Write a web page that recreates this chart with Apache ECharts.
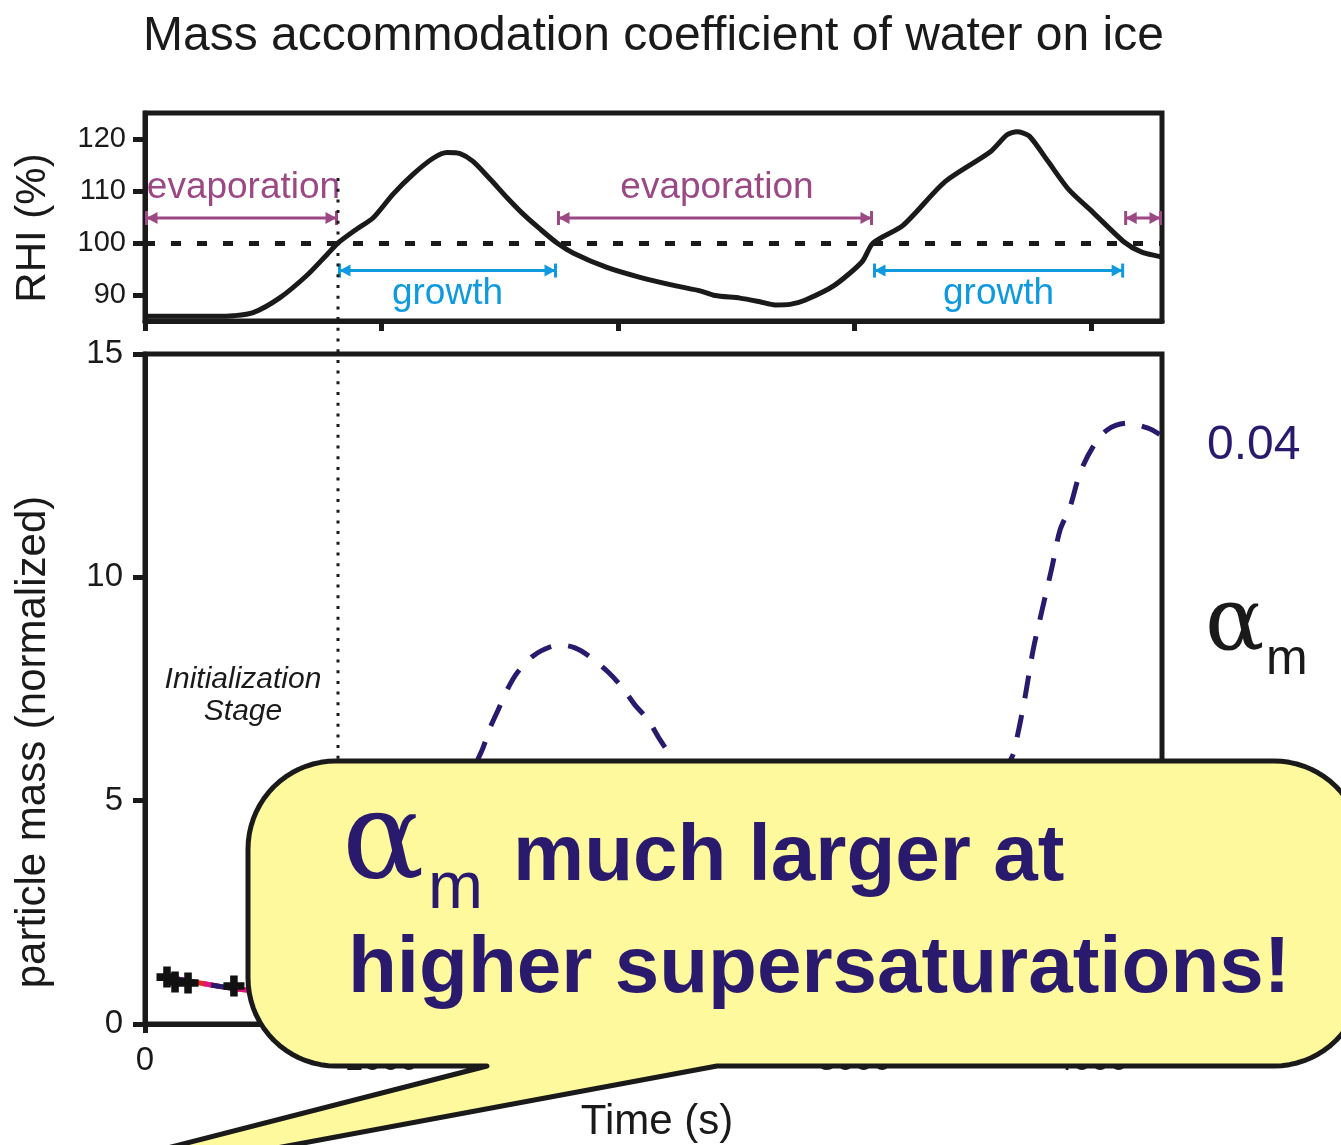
<!DOCTYPE html>
<html>
<head>
<meta charset="utf-8">
<title>Mass accommodation coefficient of water on ice</title>
<script src="https://cdn.jsdelivr.net/npm/echarts@6/dist/echarts.min.js"></script>
<style>
  html, body { margin: 0; padding: 0; background: #ffffff; }
  #chart { width: 1341px; height: 1145px; }
</style>
</head>
<body>
<div id="chart"></div>
<script>
// ---- relative humidity over ice (top panel) ----
const rhiTime = [0, 150, 300, 372, 457, 571, 685, 770, 816, 896, 964, 1049, 1133, 1218, 1277, 1332, 1387, 1459, 1531, 1598, 1670, 1742, 1810, 1953, 2093, 2250, 2347, 2410, 2516, 2600, 2664, 2727, 2790, 2913, 3032, 3078, 3205, 3383, 3573, 3645, 3687, 3738, 3818, 3907, 4008, 4140, 4212, 4300];
const rhiValue = [85.9, 85.9, 85.9, 86.0, 86.6, 89.5, 93.8, 97.8, 100.0, 102.7, 104.8, 109.4, 113.2, 116.3, 117.4, 117.2, 115.7, 112.3, 108.7, 105.6, 102.7, 100.0, 98.1, 95.3, 93.4, 91.7, 90.8, 89.9, 89.4, 88.7, 88.1, 88.2, 89.0, 91.8, 96.4, 100.0, 103.4, 111.8, 117.5, 120.8, 121.4, 120.6, 115.7, 110.2, 105.9, 100.2, 98.3, 97.3];
const saturation = 100;

// growth / evaporation phases between the saturation crossings
const phaseStart = [0, 816, 1742, 3078, 4140];
const phaseEnd = [816, 1742, 3078, 4140, 4300];
const phaseKind = [0, 1, 0, 1, 0];            // 0 = evaporation, 1 = growth
const phaseLabel = ['evaporation', 'growth', 'evaporation', 'growth', ''];
const initEnd = 816;                           // end of the initialization stage (s)

// ---- normalized particle mass (bottom panel) ----
const obsTime = [93, 127, 182, 376];
const obsMass = [1.05, 0.94, 0.92, 0.85];

const massTimeA = [114, 250, 431, 816, 1200, 1742, 2300, 3078, 3600, 4140, 4290];
const massRed = [1.03, 0.90, 0.76, 0.60, 1.10, 2.00, 1.50, 0.90, 1.60, 2.80, 2.70];
const massMagenta = [1.03, 0.90, 0.76, 0.65, 1.60, 3.40, 2.40, 1.20, 2.60, 5.00, 4.90];

const massTime004 = [114, 250, 431, 600, 816, 1000, 1200, 1425, 1459, 1493, 1535, 1573, 1641, 1712, 1763, 1818, 1882, 1958, 2017, 2072, 2127, 2178, 2228, 2400, 2700, 3078, 3400, 3666, 3691, 3721, 3755, 3793, 3835, 3869, 3911, 3953, 4008, 4068, 4152, 4241, 4290];
const mass004 = [1.03, 0.90, 0.76, 0.72, 0.70, 1.60, 3.60, 6.13, 6.63, 7.03, 7.52, 7.86, 8.24, 8.44, 8.48, 8.42, 8.22, 7.88, 7.54, 7.14, 6.81, 6.36, 5.98, 4.90, 3.20, 2.00, 3.40, 5.98, 6.51, 7.32, 8.37, 9.27, 10.23, 11.06, 11.57, 12.33, 12.92, 13.30, 13.45, 13.34, 13.20];

const timeTicks = [0, 1000, 2000, 3000, 4000];
const rhiTicks = [90, 100, 110, 120];

// ---- styles ----
const INK = '#1a1a1a';
const NAVY = '#2a1a6e';
const PURPLE = '#9b4884';
const BLUE = '#0f9ae0';
const RED = '#e12b1e';
const MAGENTA = '#e0137f';
const SANS = '"Liberation Sans", Arial, Helvetica, sans-serif';
const GREEK = '"DejaVu Serif", "Liberation Serif", serif';

const chart = echarts.init(document.getElementById('chart'), null, { renderer: 'canvas' });

const pairs = (xs, ys) => xs.map((x, i) => [x, ys[i]]);
const plain = v => String(v);

function phaseArrow(params, api) {
  const kind = api.value(2);
  const level = kind === 0 ? 104.8 : 94.7;
  const p1 = api.coord([api.value(0), level]);
  const p2 = api.coord([api.value(1), level]);
  const color = kind === 0 ? PURPLE : BLUE;
  const x1 = p1[0] + 1.5, x2 = p2[0] - 1.5, y = p1[1];
  const ah = 11, aw = 6, bh = 7;
  const children = [
    { type: 'line', shape: { x1: x1, y1: y, x2: x2, y2: y }, style: { stroke: color, lineWidth: 3 } },
    { type: 'polygon', shape: { points: [[x1, y], [x1 + ah, y - aw], [x1 + ah, y + aw]] }, style: { fill: color } },
    { type: 'polygon', shape: { points: [[x2, y], [x2 - ah, y - aw], [x2 - ah, y + aw]] }, style: { fill: color } },
    { type: 'line', shape: { x1: x1, y1: y - bh, x2: x1, y2: y + bh }, style: { stroke: color, lineWidth: 3 } },
    { type: 'line', shape: { x1: x2, y1: y - bh, x2: x2, y2: y + bh }, style: { stroke: color, lineWidth: 3 } }
  ];
  const label = phaseLabel[params.dataIndex];
  if (label) {
    children.push({
      type: 'text',
      style: {
        text: label, x: (x1 + x2) / 2 + (kind === 0 ? 2 : 0), y: kind === 0 ? y - 30 : y + 23,
        fill: color, fontSize: 37, fontFamily: SANS,
        align: 'center', verticalAlign: 'middle', textAlign: 'center', textVerticalAlign: 'middle'
      }
    });
  }
  return { type: 'group', children: children };
}

const option = {
  animation: false,
  backgroundColor: '#ffffff',
  title: {
    text: 'Mass accommodation coefficient of water on ice',
    left: 138, top: 8,
    textStyle: { fontSize: 48, fontWeight: 'normal', color: INK, fontFamily: SANS }
  },
  grid: [
    { left: 145, top: 113, width: 1017, height: 208, show: true, borderColor: INK, borderWidth: 5, backgroundColor: 'transparent', outerBoundsMode: 'none' },
    { left: 145, top: 354, width: 1017, height: 670, show: true, borderColor: INK, borderWidth: 5, backgroundColor: 'transparent', outerBoundsMode: 'none' }
  ],
  xAxis: [
    {
      gridIndex: 0, type: 'value', min: 0, max: 4300,
      axisLine: { show: true, lineStyle: { color: INK, width: 5 } },
      axisTick: { show: true, length: 10, customValues: timeTicks, lineStyle: { color: INK, width: 5 } },
      axisLabel: { show: false },
      splitLine: { show: false }
    },
    {
      gridIndex: 1, type: 'value', min: 0, max: 4300,
      axisLine: { show: true, lineStyle: { color: INK, width: 5 } },
      axisTick: { show: true, length: 9, customValues: timeTicks, lineStyle: { color: INK, width: 5 } },
      axisLabel: { show: true, customValues: timeTicks, formatter: plain, margin: 20, fontSize: 33, color: INK, fontFamily: SANS },
      splitLine: { show: false }
    }
  ],
  yAxis: [
    {
      gridIndex: 0, type: 'value', min: 85, max: 125,
      axisLine: { show: true, lineStyle: { color: INK, width: 5 } },
      axisTick: { show: true, length: 12, customValues: rhiTicks, lineStyle: { color: INK, width: 5 } },
      axisLabel: { show: true, customValues: rhiTicks, formatter: plain, margin: 19, fontSize: 29, color: INK, fontFamily: SANS },
      splitLine: { show: false }
    },
    {
      gridIndex: 1, type: 'value', min: 0, max: 15, interval: 5,
      axisLine: { show: true, lineStyle: { color: INK, width: 5 } },
      axisTick: { show: true, length: 12, lineStyle: { color: INK, width: 5 } },
      axisLabel: { show: true, formatter: plain, margin: 22, fontSize: 33, color: INK, fontFamily: SANS },
      splitLine: { show: false }
    }
  ],
  series: [
    {
      name: 'RHI', type: 'line', xAxisIndex: 0, yAxisIndex: 0,
      data: pairs(rhiTime, rhiValue), smooth: 0.25, showSymbol: false,
      lineStyle: { color: INK, width: 5 }, z: 3,
      markLine: {
        silent: true, symbol: 'none', label: { show: false },
        lineStyle: { color: INK, width: 5, type: [10, 16] },
        data: [{ yAxis: saturation }]
      }
    },
    {
      name: 'phases', type: 'custom', xAxisIndex: 0, yAxisIndex: 0,
      data: phaseStart.map((s, i) => [s, phaseEnd[i], phaseKind[i]]),
      encode: { x: [0, 1], y: 2 },
      renderItem: phaseArrow, z: 4, silent: true
    },
    {
      name: '0.01', type: 'line', xAxisIndex: 1, yAxisIndex: 1,
      data: pairs(massTimeA, massRed), smooth: 0.3, showSymbol: false,
      lineStyle: { color: RED, width: 5 }, z: 3
    },
    {
      name: '0.02', type: 'line', xAxisIndex: 1, yAxisIndex: 1,
      data: pairs(massTimeA, massMagenta), smooth: 0.3, showSymbol: false,
      lineStyle: { color: MAGENTA, width: 5, type: [18, 14] }, z: 4
    },
    {
      name: '0.04', type: 'line', xAxisIndex: 1, yAxisIndex: 1,
      data: pairs(massTime004, mass004), smooth: 0.3, showSymbol: false,
      lineStyle: { color: NAVY, width: 5, type: [23, 17], cap: 'butt' }, z: 5
    },
    {
      name: 'measured', type: 'scatter', xAxisIndex: 1, yAxisIndex: 1,
      data: pairs(obsTime, obsMass),
      symbol: 'path://M3.2,0H6.8V3.2H10V6.8H6.8V10H3.2V6.8H0V3.2H3.2Z',
      symbolSize: 21, itemStyle: { color: '#111111', opacity: 1 }, z: 6
    }
  ]
};

chart.setOption(option);

// outline of the callout: rounded box with a pointer running off the lower left
function calloutOutline(x0, y0, x1, y1, r, rightBase, tip, leftBase) {
  const pts = [];
  const arc = (cx, cy, a0, a1) => {
    const n = 18;
    for (let i = 0; i <= n; i++) {
      const a = a0 + (a1 - a0) * i / n;
      pts.push([cx + r * Math.cos(a), cy + r * Math.sin(a)]);
    }
  };
  const H = Math.PI / 2;
  arc(x1 - r, y0 + r, -H, 0);
  arc(x1 - r, y1 - r, 0, H);
  pts.push([rightBase, y1], tip, [leftBase, y1]);
  arc(x0 + r, y1 - r, H, 2 * H);
  arc(x0 + r, y0 + r, 2 * H, 3 * H);
  return pts;
}

function txt(text, x, y, size, color, extra) {
  return Object.assign({
    type: 'text', x: x, y: y, silent: true, z: 20,
    style: Object.assign({
      text: text, fill: color, fontSize: size, fontFamily: SANS,
      align: 'left', verticalAlign: 'middle', textAlign: 'left', textVerticalAlign: 'middle'
    }, extra && extra.style)
  }, extra && extra.el);
}

const topPt = chart.convertToPixel({ gridIndex: 0 }, [initEnd, 112.5]);
const botPt = chart.convertToPixel({ gridIndex: 1 }, [initEnd, 0]);
const centered = { align: 'center', textAlign: 'center' };

chart.setOption({
  graphic: [
    // end of initialization stage
    { type: 'line', z: 10, silent: true,
      shape: { x1: topPt[0], y1: topPt[1], x2: botPt[0], y2: botPt[1] },
      style: { stroke: INK, lineWidth: 3, lineDash: [3, 7.7] } },
    txt('Initialization', 243, 680, 30, INK, { style: Object.assign({ fontStyle: 'italic' }, centered) }),
    txt('Stage', 243, 712, 30, INK, { style: Object.assign({ fontStyle: 'italic' }, centered) }),
    // axis titles
    txt('RHI (%)', 33, 228, 42, INK, { style: centered, el: { rotation: Math.PI / 2 } }),
    txt('particle mass (normalized)', 33, 742, 42, INK, { style: centered, el: { rotation: Math.PI / 2 } }),
    txt('Time (s)', 657, 1122, 42, INK, { style: centered }),
    // curve key
    txt('0.04', 1207, 446, 48, NAVY),
    txt('α', 1205, 626, 88, INK, { style: { fontFamily: GREEK } }),
    txt('m', 1266, 660, 50, INK),
    // callout
    { type: 'polygon', z: 100, silent: true,
      shape: { points: calloutOutline(248, 761, 1362, 1066, 88, 717, [-121, 1222], 487) },
      style: { fill: '#fff99d', stroke: INK, lineWidth: 5, lineJoin: 'round' } },
    txt('α', 342, 846, 122, NAVY, { el: { z: 101 }, style: { fontFamily: GREEK } }),
    txt('m', 428, 890, 66, NAVY, { el: { z: 101 } }),
    txt('much larger at', 513, 858, 80, NAVY, { el: { z: 101 }, style: { fontWeight: 'bold' } }),
    txt('higher supersaturations!', 348, 970, 80, NAVY, { el: { z: 101 }, style: { fontWeight: 'bold' } })
  ]
});
</script>
</body>
</html>
